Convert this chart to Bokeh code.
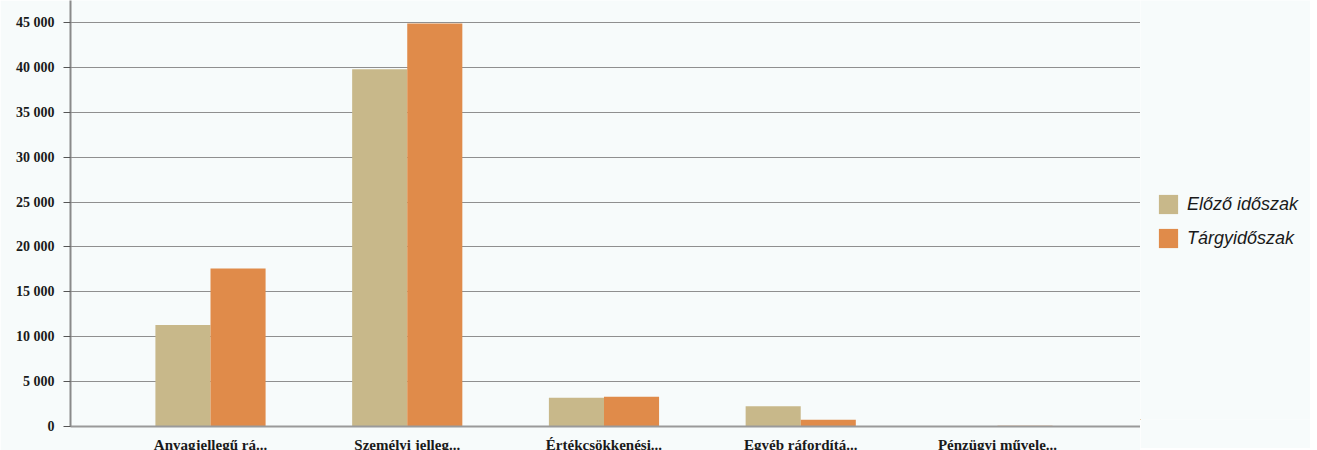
from bokeh.plotting import figure
from bokeh.models import ColumnDataSource, FixedTicker, Legend, LegendItem, Range1d
from bokeh.transform import dodge
from bokeh.layouts import row
from bokeh.embed import file_html
from bokeh.resources import INLINE

categories = ["Anyagjellegű rá...", "Személyi jelleg...", "Értékcsökkenési...",
              "Egyéb ráfordítá...", "Pénzügyi művele..."]
elozo = [11300, 39800, 3200, 2250, 30]
targy = [17600, 44900, 3300, 750, 80]
series_names = ["Előző időszak", "Tárgyidőszak"]
y_ticks = [0, 5000, 10000, 15000, 20000, 25000, 30000, 35000, 40000, 45000]
y_tick_labels = ["0", "5 000", "10 000", "15 000", "20 000", "25 000",
                 "30 000", "35 000", "40 000", "45 000"]

BEIGE = "#c8b88a"
ORANGE = "#e08b4a"
BG = "#f7fbfb"

src = ColumnDataSource(dict(x=list(range(len(categories))), elozo=elozo, targy=targy))

p = figure(frame_width=1070, frame_height=426, output_backend="svg", toolbar_location=None,
           x_range=Range1d(-0.7116, 4.727), y_range=Range1d(0, 47450),
           min_border_left=70, min_border_right=0, min_border_top=0, min_border_bottom=0,
           background_fill_color=BG, border_fill_color=BG, outline_line_color=None)

r1 = p.vbar(x=dodge("x", -0.14, range=p.x_range), top="elozo", width=0.28, source=src,
            fill_color=BEIGE, line_color=None)
r2 = p.vbar(x=dodge("x", 0.14, range=p.x_range), top="targy", width=0.28, source=src,
            fill_color=ORANGE, line_color=None)

# x axis
p.xaxis.ticker = FixedTicker(ticks=list(range(len(categories))))
p.xaxis.major_label_overrides = {i: c for i, c in enumerate(categories)}
p.xaxis.major_tick_line_color = None
p.xaxis.minor_tick_line_color = None
p.xaxis.axis_line_color = "#9a9a9a"
p.xaxis.axis_line_width = 2
p.xaxis.major_label_standoff = 4
p.xaxis.major_label_text_font = "Liberation Serif"
p.xaxis.major_label_text_font_style = "bold"
p.xaxis.major_label_text_font_size = "15px"
p.xaxis.major_label_text_color = "#1a1a1a"

# y axis
p.yaxis.ticker = FixedTicker(ticks=y_ticks)
p.yaxis.major_label_overrides = {t: l for t, l in zip(y_ticks, y_tick_labels)}
p.yaxis.minor_tick_line_color = None
p.yaxis.major_tick_in = 0
p.yaxis.major_tick_out = 7
p.yaxis.major_tick_line_color = "#555555"
p.yaxis.axis_line_color = "#8a8a8a"
p.yaxis.axis_line_width = 2
p.yaxis.major_label_standoff = 9
p.yaxis.major_label_text_font = "Liberation Serif"
p.yaxis.major_label_text_font_style = "bold"
p.yaxis.major_label_text_font_size = "14px"
p.yaxis.major_label_text_color = "#1a1a1a"

p.xgrid.grid_line_color = None
p.ygrid.grid_line_color = "#8f8f8f"
p.ygrid.grid_line_width = 1

# legend panel (separate figure to the right of the plot area); its bars lie
# far outside its visible ranges, only the legend swatches are shown
q = figure(width=170, height=448, output_backend="svg", toolbar_location=None,
           x_axis_type=None, y_axis_type=None, x_range=Range1d(1000, 1001),
           y_range=Range1d(1_000_000, 1_000_001),
           min_border_left=0, min_border_right=0, min_border_top=0, min_border_bottom=0,
           background_fill_color=BG, border_fill_color=BG, outline_line_color=None)
q.xgrid.grid_line_color = None
q.ygrid.grid_line_color = None
l1 = q.vbar(x="x", top="elozo", width=0.28, source=src, fill_color=BEIGE, line_color=None)
l2 = q.vbar(x="x", top="targy", width=0.28, source=src, fill_color=ORANGE, line_color=None)

legend = Legend(items=[LegendItem(label=series_names[0], renderers=[l1]),
                       LegendItem(label=series_names[1], renderers=[l2])],
                location=(16, 169), orientation="vertical")
legend.padding = 0
legend.margin = 0
legend.border_line_color = None
legend.background_fill_alpha = 0
legend.glyph_width = 24
legend.glyph_height = 24
legend.label_height = 24
legend.spacing = 10
legend.label_standoff = 7
legend.label_text_font = "Liberation Sans"
legend.label_text_font_style = "italic"
legend.label_text_font_size = "18px"
legend.label_text_color = "#1a1a1a"
q.add_layout(legend)

layout = row(p, q)
open("out.html", "w").write(file_html(layout, INLINE))
